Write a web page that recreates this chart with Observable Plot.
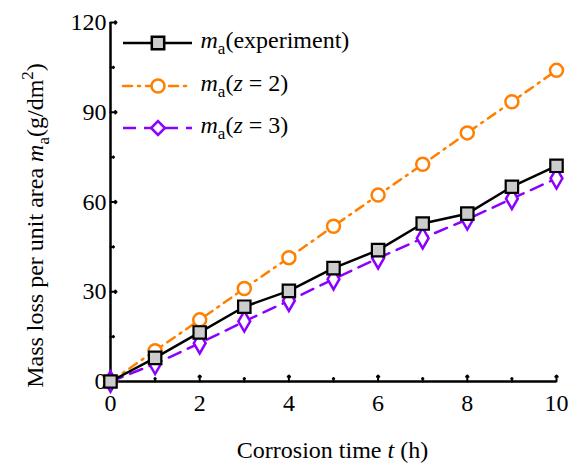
<!DOCTYPE html>
<html><head><meta charset="utf-8">
<script src="https://cdn.jsdelivr.net/npm/d3@7"></script>
<script src="https://cdn.jsdelivr.net/npm/@observablehq/plot@0.6"></script>
</head><body style="margin:0">
<div id="chart"></div>
<script>
// ---- data ----
const time = [0, 1, 2, 3, 4, 5, 6, 7, 8, 9, 10];
const experiment = [0, 7.9, 16.4, 25.0, 30.3, 37.9, 43.9, 52.8, 56.1, 65.1, 72.1];
const z2 = [0, 10.3, 20.6, 31.1, 41.4, 51.9, 62.3, 72.6, 83.1, 93.5, 104.0];
const z3 = [0, 5.9, 12.8, 20.1, 27.0, 34.2, 41.2, 47.9, 54.2, 61.1, 67.9];
const xMajor = [0, 2, 4, 6, 8, 10];
const xMinor = [1, 3, 5, 7, 9];
const yMajor = [0, 30, 60, 90, 120];
const yMinor = [15, 45, 75, 105];

const ORANGE = "#ff8000", PURPLE = "#8c00ff";
const FONT = "Liberation Serif";
const TS = 24;
const ML = 110, MT = 22;

const rows = (vals) => time.map((t, i) => ({t, v: vals[i]}));
const dExp = rows(experiment), dZ2 = rows(z2), dZ3 = rows(z3);

// rich labels (pieces laid out after rendering)
const richSpecs = [
  {x: 332, y: 457, rot: 0, anchor: "middle", parts: [{t: "Corrosion time\u00A0"}, {t: "t", i: true}, {t: "\u00A0(h)"}]},
  {x: 42, y: 225, rot: -90, anchor: "middle", parts: [{t: "Mass loss per unit area\u00A0"}, {t: "m", i: true}, {t: "a", sub: true}, {t: "(g/dm"}, {t: "2", sup: true}, {t: ")"}]},
  {x: 200, y: 47.5, rot: 0, anchor: "start", parts: [{t: "m", i: true}, {t: "a", sub: true}, {t: "(experiment)"}]},
  {x: 200, y: 90.5, rot: 0, anchor: "start", parts: [{t: "m", i: true}, {t: "a", sub: true}, {t: "("}, {t: "z", i: true}, {t: "\u00A0=\u00A02)"}]},
  {x: 200, y: 132.5, rot: 0, anchor: "start", parts: [{t: "m", i: true}, {t: "a", sub: true}, {t: "("}, {t: "z", i: true}, {t: "\u00A0=\u00A03)"}]}
];
const textMarks = richSpecs.flatMap(s => s.parts.map(p => Plot.text([p.t], {
  text: d => d, frameAnchor: "top-left", dx: s.x - ML, dy: s.y - MT, rotate: s.rot,
  textAnchor: "start", lineAnchor: "bottom", fontSize: (p.sub || p.sup) ? 17 : TS,
  fontStyle: p.i ? "italic" : "normal", fill: "#000"
})));
const NT = textMarks.length;

const plot = Plot.plot({
  width: 573, height: 467,
  marginLeft: ML, marginRight: 17, marginTop: MT, marginBottom: 86,
  style: {fontFamily: FONT, fontSize: "24px"},
  x: {domain: [0, 10]},
  y: {domain: [0, 120]},
  marks: [
    Plot.axisX({ticks: xMajor, tickSize: 0, tickPadding: 12, fontSize: TS, label: null}),
    Plot.axisY({ticks: yMajor, tickSize: 0, tickPadding: 4, fontSize: TS, label: null}),
    Plot.vector(xMajor, {x: d => d, y: 0, length: 6, rotate: 0, anchor: "start", strokeWidth: 2, stroke: "#000"}),
    Plot.vector(xMinor, {x: d => d, y: 0, length: 3.5, rotate: 0, anchor: "start", strokeWidth: 2, stroke: "#000"}),
    Plot.vector(yMajor, {x: 0, y: d => d, length: 6, rotate: 90, anchor: "start", strokeWidth: 2, stroke: "#000"}),
    Plot.vector(yMinor, {x: 0, y: d => d, length: 3.5, rotate: 90, anchor: "start", strokeWidth: 2, stroke: "#000"}),
    Plot.ruleX([0], {strokeWidth: 2.5}),
    Plot.ruleY([0], {strokeWidth: 2.5}),
    Plot.line(dZ2, {x: "t", y: "v", stroke: ORANGE, strokeWidth: 2.5, strokeDasharray: "9,6,2,6", strokeLinecap: "round"}),
    Plot.dot(dZ2, {x: "t", y: "v", r: 6.5, stroke: ORANGE, strokeWidth: 2.5, fill: "#fff"}),
    Plot.line(dZ3, {x: "t", y: "v", stroke: PURPLE, strokeWidth: 2.5, strokeDasharray: "13,8"}),
    Plot.dot(dZ3, {x: "t", y: "v", symbol: "diamond", r: 6.2, stroke: PURPLE, strokeWidth: 2.5, fill: "#fff"}),
    Plot.line(dExp, {x: "t", y: "v", stroke: "#000", strokeWidth: 2.5}),
    Plot.dot(dExp, {x: "t", y: "v", symbol: "square", r: 7, stroke: "#000", strokeWidth: 2.2, fill: "#cccccc"}),
    ...textMarks
  ]
});
document.getElementById("chart").appendChild(plot);

const svg = d3.select(plot);
svg.selectAll("text").attr("fill", "#000");

// lay out the rich-label pieces side by side
const groups = Array.from(plot.children).filter(n => n.tagName.toLowerCase() === "g").slice(-NT);
let gi = 0;
richSpecs.forEach(s => {
  const gs = s.parts.map(() => groups[gi++]);
  let cx = 0;
  const offs = [];
  gs.forEach(g => {
    offs.push(cx);
    const t = g && g.querySelector("text");
    cx += t ? t.getComputedTextLength() : 0;
  });
  const shift = s.anchor === "middle" ? -cx / 2 : 0;
  s.parts.forEach((p, i) => {
    const g = gs[i];
    if (!g) return;
    const along = offs[i] + shift;
    const perp = p.sub ? 6 : p.sup ? -10 : 0;
    const tx = s.rot === 0 ? along : perp;
    const ty = s.rot === 0 ? perp : -along;
    g.setAttribute("transform", (g.getAttribute("transform") || "") + ` translate(${tx},${ty})`);
  });
});

// legend keys
const legend = [
  {stroke: "#000", dash: null, cap: null, sym: d3.symbolSquare, r: 7, fill: "#cccccc", y: 43},
  {stroke: ORANGE, dash: "9,6,2,6", cap: "round", sym: d3.symbolCircle, r: 6.5, fill: "#fff", y: 86},
  {stroke: PURPLE, dash: "13,8", cap: null, sym: d3.symbolDiamond2, r: 6.2, fill: "#fff", y: 128}
];
const lg = svg.append("g");
legend.forEach(d => {
  lg.append("line").attr("x1", 123).attr("x2", 192).attr("y1", d.y).attr("y2", d.y)
    .attr("stroke", d.stroke).attr("stroke-width", 2.5).attr("stroke-dasharray", d.dash).attr("stroke-linecap", d.cap);
  lg.append("path").attr("transform", `translate(158,${d.y})`)
    .attr("d", d3.symbol(d.sym, Math.PI * d.r * d.r)())
    .attr("fill", d.fill).attr("stroke", d.stroke).attr("stroke-width", 2.5);
});
</script>
</body></html>
